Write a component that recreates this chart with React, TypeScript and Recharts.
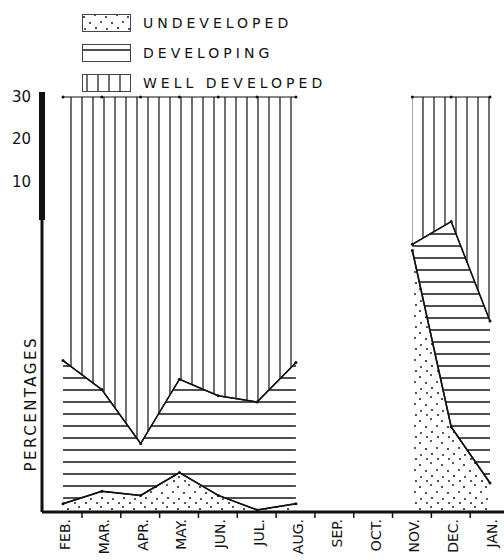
import { Area, AreaChart, XAxis, YAxis } from 'recharts'

const months = ['FEB.', 'MAR.', 'APR.', 'MAY.', 'JUN.', 'JUL.', 'AUG.', 'SEP.', 'OCT.', 'NOV.', 'DEC.', 'JAN.']
const undeveloped = [2, 5, 4, 9.5, 4, 0.5, 2, null, null, 63, 20.5, 7]
const developing = [34.5, 24.5, 12.5, 22.5, 24, 26, 34, null, null, 1.5, 49.5, 39]
const wellDeveloped = [63.5, 70.5, 83.5, 68, 72, 73.5, 64, null, null, 35.5, 30, 54]
const countTicks = [10, 20, 30]
const legendItems = [
  { name: 'UNDEVELOPED', fill: 'url(#dots)' },
  { name: 'DEVELOPING', fill: 'url(#hlines)' },
  { name: 'WELL DEVELOPED', fill: 'url(#vlines)' },
]

type Row = { month: string; u: number | null; d: number | null; w: number | null }

const data: Row[] = months.map((month, i) => ({
  month,
  u: undeveloped[i],
  d: developing[i],
  w: wellDeveloped[i],
}))

// the count scale on the left shares the percent axis: 10 units = 10.24 %
const countToPct = (c: number) => 100 - (30 - c) * 1.024
const pctToCount = (p: number) => Math.round(30 - (100 - p) / 1.024)

const font = '"DejaVu Sans", sans-serif'

const Patterns = () => (
  <defs>
    <pattern id="dots" width="22" height="22" patternUnits="userSpaceOnUse">
      <circle cx="2" cy="3" r="1.1" fill="#222" />
      <circle cx="13" cy="1" r="1" fill="#222" />
      <circle cx="8" cy="9" r="1.1" fill="#222" />
      <circle cx="19" cy="8" r="1" fill="#222" />
      <circle cx="3" cy="15" r="1" fill="#222" />
      <circle cx="14" cy="14" r="1.1" fill="#222" />
      <circle cx="9" cy="19" r="1" fill="#222" />
      <circle cx="20" cy="19" r="1.1" fill="#222" />
    </pattern>
    <pattern id="hlines" width="12" height="12" patternUnits="userSpaceOnUse">
      <line x1="0" y1="6" x2="12" y2="6" stroke="#222" strokeWidth="1.6" />
    </pattern>
    <pattern id="vlines" width="11" height="11" patternUnits="userSpaceOnUse">
      <line x1="5" y1="0" x2="5" y2="11" stroke="#333" strokeWidth="1.4" />
    </pattern>
  </defs>
)

const MonthTick = (props: any) => {
  const { x, y, payload } = props
  return (
    <g>
      <line x1={x + 19} y1={y - 8} x2={x + 19} y2={y - 2} stroke="#111" strokeWidth={1.5} />
      <text
        transform={`translate(${x + 7},${y - 1}) rotate(-90)`}
        textAnchor="end"
        fontFamily={font}
        fontSize={14}
        fill="#111"
      >
        {payload.value}
      </text>
    </g>
  )
}

const CountTick = (props: any) => {
  const { x, y, payload, tickFormatter } = props
  return (
    <g>
      <rect x={x - 3} y={y - 5} width={6} height={43} fill="#111" />
      <text x={x - 11} y={y + 5} textAnchor="end" fontFamily={font} fontSize={15} fill="#111">
        {tickFormatter ? tickFormatter(payload.value) : payload.value}
      </text>
    </g>
  )
}

const Legend = () => (
  <div style={{ position: 'absolute', left: 82, top: 8 }}>
    {legendItems.map((item) => (
      <div key={item.name} style={{ display: 'flex', alignItems: 'center', height: 30 }}>
        <svg width={49} height={19}>
          <Patterns />
          <rect x={0.5} y={0.5} width={48} height={17} fill={item.fill} stroke="#444" strokeWidth={1} />
        </svg>
        <span
          style={{
            marginLeft: 12,
            fontFamily: font,
            fontSize: 14,
            letterSpacing: 4,
            color: '#111',
          }}
        >
          {item.name}
        </span>
      </div>
    ))}
  </div>
)

const App = () => {
  return (
    <div style={{ position: 'absolute', left: 0, top: 0, width: 504, height: 560, background: '#fff' }}>
      <Legend />
      <AreaChart width={504} height={560} data={data} margin={{ top: 97, right: 0, bottom: 0, left: 0 }}>
        <Patterns />
        <XAxis
          dataKey="month"
          height={48}
          padding={{ left: 21, right: 14 }}
          axisLine={{ stroke: '#111', strokeWidth: 3 }}
          tickLine={false}
          tick={<MonthTick />}
          interval={0}
        />
        <YAxis
          domain={[0, 100]}
          ticks={countTicks.map(countToPct)}
          tickFormatter={pctToCount}
          width={42}
          axisLine={{ stroke: '#111', strokeWidth: 3 }}
          tickLine={false}
          tickSize={0}
          tickMargin={0}
          tick={<CountTick />}
          interval={0}
          label={{
            value: 'PERCENTAGES',
            angle: -90,
            position: 'insideLeft',
            dx: 26,
            dy: 167,
            style: { fontFamily: font, fontSize: 15, letterSpacing: 2.5, fill: '#111' },
          }}
        />
        <Area
          type="linear"
          dataKey={(r: Row) => (r.u == null ? null : [0, r.u])}
          fill="url(#dots)"
          fillOpacity={1}
          stroke="#111"
          strokeWidth={1.5}
          dot={{ r: 1.5, fill: '#111', stroke: 'none' }}
          isAnimationActive={false}
        />
        <Area
          type="linear"
          dataKey={(r: Row) => (r.u == null || r.d == null ? null : [r.u, r.u + r.d])}
          fill="url(#hlines)"
          fillOpacity={1}
          stroke="#111"
          strokeWidth={1.5}
          dot={{ r: 1.5, fill: '#111', stroke: 'none' }}
          isAnimationActive={false}
        />
        <Area
          type="linear"
          dataKey={(r: Row) =>
            r.u == null || r.d == null || r.w == null ? null : [r.u + r.d, r.u + r.d + r.w]
          }
          fill="url(#vlines)"
          fillOpacity={1}
          stroke="#111"
          strokeWidth={1.2}
          dot={{ r: 1.5, fill: '#111', stroke: 'none' }}
          isAnimationActive={false}
        />
      </AreaChart>
    </div>
  )
}

export default App
